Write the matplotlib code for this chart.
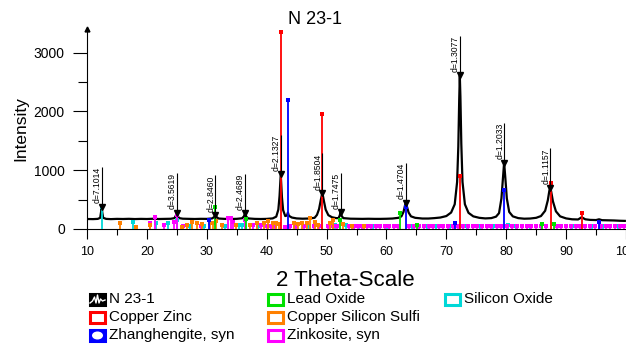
import matplotlib.pyplot as plt
from matplotlib import font_manager
from matplotlib.patches import Rectangle, Ellipse
from matplotlib.lines import Line2D
from matplotlib.transforms import Affine2D, offset_copy

plt.rcParams['font.family'] = ['Liberation Sans', 'DejaVu Sans']

scan_tt = [10.0, 11.0, 11.8, 12.2, 12.35, 12.45, 12.55, 12.7, 13.2, 14, 15, 16, 17, 18, 19, 20,
           21, 22, 23, 24, 24.6, 24.85, 24.98, 25.1, 25.4, 26, 27, 28, 29, 30, 30.9, 31.25,
           31.45, 31.65, 32.0, 33, 34, 35, 35.9, 36.2, 36.4, 36.6, 36.9, 38, 39, 40, 41, 41.6,
           41.95, 42.15, 42.35, 42.55, 42.75, 43.1, 43.4, 43.55, 43.7, 44.2, 45, 46, 47, 48,
           48.4, 48.75, 49.05, 49.3, 49.55, 49.85, 50.3, 50.9, 51.6, 52.0, 52.2, 52.35, 52.5,
           52.8, 54, 55, 56, 57, 58, 59, 60, 61, 62, 62.5, 62.85, 63.1, 63.25, 63.4, 63.7, 64.1,
           64.8, 66, 67, 68, 69, 70, 70.8, 71.4, 71.8, 72.0, 72.15, 72.25, 72.35, 72.5, 72.7,
           73.1, 73.7, 74.5, 75.5, 76.5, 77.5, 78.3, 78.8, 79.2, 79.45, 79.65, 79.85, 80.1,
           80.5, 81.1, 82, 83, 84, 85, 85.8, 86.5, 86.95, 87.2, 87.35, 87.5, 87.8, 88.3, 89, 90,
           91, 92, 92.6, 93.2, 94, 95, 95.5, 96, 97, 98, 99, 99.8]
scan_counts = [170, 168, 172, 190, 290, 380, 280, 190, 172, 168, 172, 170, 173, 169, 172, 170,
               174, 170, 172, 174, 185, 230, 280, 225, 185, 175, 172, 170, 173, 172, 180, 205,
               240, 200, 178, 172, 170, 173, 182, 215, 270, 210, 180, 172, 170, 172, 180, 210,
               330, 560, 930, 540, 320, 220, 230, 280, 225, 195, 180, 175, 178, 190,
               240, 340, 500, 615, 480, 330, 235, 200, 185, 185, 230, 290, 225,
               185, 175, 173, 172, 174, 172, 172, 174, 178, 190, 215, 290, 400, 450, 390, 280, 215,
               190, 178, 178, 185, 195, 220, 280, 420, 800, 1400, 2200, 2610, 2250, 1450, 800,
               420, 275, 215, 190, 180, 185, 210, 270, 520, 850, 1130, 870, 520,
               290, 215, 185, 175, 178, 190, 220, 310, 490, 650, 700, 640, 470, 300, 215, 180,
               165, 162, 200, 165, 155, 152, 165, 150, 148, 145, 140, 138]

# labelled peaks
peak_tt = [12.45, 24.98, 31.45, 36.4, 42.35, 49.3, 52.35, 63.25, 72.25, 79.65, 87.35]
peak_counts = [380, 280, 240, 270, 930, 615, 290, 450, 2610, 1130, 700]
peak_d = ['d=7.1014', 'd=3.5619', 'd=2.8460', 'd=2.4689', 'd=2.1327', 'd=1.8504',
          'd=1.7475', 'd=1.4704', 'd=1.3077', 'd=1.2033', 'd=1.1157']

# reference patterns: stick positions and heights
cuzn_tt = [42.35, 49.3, 72.35, 87.55, 92.6]
cuzn_h = [3350, 1950, 900, 790, 280]
zhang_tt = [30.3, 43.5, 63.25, 71.5, 79.7, 95.45]
zhang_h = [150, 2200, 380, 95, 660, 125]
lead_tt = [31.45, 36.6, 52.3, 62.3, 65.1, 86.0, 87.9]
lead_h = [375, 170, 150, 277, 70, 80, 80]
sio2_tt = [12.45, 17.75, 21.6, 23.5, 25.1, 27.2, 29.6, 33.0, 35.3, 35.9, 38.6, 40.9, 44.8,
           47.0, 51.4, 53.2, 55.5, 57.8, 60.1, 64.2, 66.8, 68.3, 70.6, 73.4, 75.7, 77.8,
           80.3, 81.6, 83.9, 90.9, 94.3, 96.2, 98.7]
sio2_h = [380, 112, 100, 110, 160, 45, 50, 55, 70, 70, 50, 45, 50, 45, 70, 70, 45, 50, 45,
          50, 45, 55, 50, 45, 55, 50, 60, 45, 50, 45, 50, 55, 45]
cusis_tt = [15.5, 18.2, 20.5, 25.8, 26.7, 27.5, 28.3, 29.2, 30.6, 31.1, 31.6, 32.5, 34.8,
            37.15, 38.4, 39.5, 40.3, 41.1, 41.6, 42.0, 44.5, 45.2, 45.9, 46.7, 47.3, 48.1,
            48.5, 50.6, 51.1, 52.7, 54.2, 56.3]
cusis_h = [97, 40, 68, 40, 68, 124, 97, 80, 97, 100, 130, 70, 60, 70, 100, 95, 130, 100,
           95, 80, 100, 80, 100, 95, 180, 124, 70, 100, 150, 80, 50, 45]
zinc_tt = [20.5, 21.3, 22.8, 24.55, 25.05, 26.1, 29.0, 33.6, 34.0, 34.35, 36.45, 37.8, 39.0,
           40.0, 40.7, 41.4, 43.0, 43.9, 44.9, 46.2, 47.9, 48.8, 50.2, 51.0, 51.8, 53.8,
           54.5, 55.2, 56.0, 56.8, 57.5, 58.3, 59.0, 59.7, 60.5, 61.3, 62.0, 63.8, 64.6,
           65.5, 66.3, 67.1, 67.8, 68.7, 69.5, 70.3, 71.1, 71.9, 72.8, 73.6, 74.4, 75.2,
           76.0, 76.8, 77.5, 78.4, 79.2, 80.2, 81.0, 81.8, 82.6, 83.4, 84.2, 85.0, 85.8,
           86.6, 88.4, 89.2, 90.0, 90.8, 91.6, 92.4, 93.2, 94.0, 94.8, 95.8, 96.6, 97.4,
           98.2, 99.0, 99.7]
zinc_h = [100, 205, 68, 125, 238, 50, 55, 180, 180, 125, 153, 70, 70,
          55, 45, 50, 40, 55, 45, 50, 45, 55, 50, 45, 55, 50,
          45, 55, 50, 45, 55, 50, 45, 50, 55, 45, 50, 55, 45,
          50, 55, 45, 50, 55, 50, 45, 55, 50, 45, 55, 50, 45,
          55, 50, 45, 55, 50, 45, 55, 50, 45, 50, 55, 45, 50,
          55, 50, 45, 55, 50, 45, 55, 50, 45, 55, 50, 45, 55,
          50, 45, 50]

phases = [
    ('Copper Zinc', '#ff0000', cuzn_tt, cuzn_h),
    ('Zhanghengite, syn', '#0000ff', zhang_tt, zhang_h),
    ('Lead Oxide', '#00e000', lead_tt, lead_h),
    ('Copper Silicon Sulfi', '#ff8000', cusis_tt, cusis_h),
    ('Zinkosite, syn', '#ff00ff', zinc_tt, zinc_h),
    ('Silicon Oxide', '#00d8d8', sio2_tt, sio2_h),
]

W, H = 626, 345
fig = plt.figure(figsize=(W / 100, H / 100), dpi=100)
ax = fig.add_axes([87 / W, 1 - 229 / H, (W - 87) / W, 200 / H])

ax.plot(scan_tt, scan_counts, color='black', lw=1.6, zorder=2)

# sticks of the reference patterns
for name, col, tt, h in phases[::-1]:
    ax.vlines(tt, 0, h, color=col, lw=1.3, zorder=3)
    ax.plot(tt, h, 's', color=col, ms=2.6, mew=0, zorder=3, clip_on=False)

# d-spacing labels
names = {f.name for f in font_manager.fontManager.ttflist}
if 'Liberation Sans Narrow' in names:
    dfam, dsize = 'Liberation Sans Narrow', 7
else:
    dfam, dsize = 'Liberation Sans', 6.2
lab_len = 670
tops = [c + lab_len for c in peak_counts]
ax.vlines(peak_tt, peak_counts, tops, color='black', lw=0.8, zorder=4)
ax.plot(peak_tt, peak_counts, 'v', color='black', ms=4, zorder=5)
toff = offset_copy(ax.transData, fig=fig, x=-2, y=0, units='dots')
for x, t, s in zip(peak_tt, tops, peak_d):
    ax.text(x, t, s, rotation=90, rotation_mode='anchor', ha='right', va='baseline',
            fontsize=dsize, family=dfam, transform=toff, zorder=5)

ax.set_xlim(10, 100)
ax.set_ylim(0, 3400)
ax.spines['top'].set_visible(False)
ax.spines['right'].set_visible(False)
ax.set_xticks(range(10, 101, 10))
ax.set_xticks(range(15, 100, 10), minor=True)
ax.set_yticks([0, 1000, 2000, 3000])
ax.set_yticks([500, 1500, 2500], minor=True)
ax.tick_params(axis='x', which='major', length=7.5, width=0.8, pad=5, labelsize=9)
ax.tick_params(axis='x', which='minor', length=4.5, width=0.8)
ax.tick_params(axis='y', which='major', length=10, width=0.8, pad=6, labelsize=10)
ax.tick_params(axis='y', which='minor', length=6.5, width=0.8)
for sp in ax.spines.values():
    sp.set_linewidth(0.8)
ax.plot(0, 1, '^', color='black', ms=3.5, transform=ax.transAxes, clip_on=False)

ax.set_ylabel('Intensity', fontsize=12.5)
ax.yaxis.set_label_coords(-0.122, 0.5)
ax.yaxis.label.set_va('center')
ax.set_xlabel('2 Theta-Scale', fontsize=16)
ax.xaxis.set_label_coords(0.479, -0.26)
ax.xaxis.label.set_va('center')
fig.text(315 / W, 1 - 19 / H, 'N 23-1', fontsize=13, ha='center', va='center')

# legend drawn in pixel coordinates (y downwards)
px = Affine2D().scale(1 / W, -1 / H).translate(0, 1) + fig.transFigure
col_x = [88.5, 266.5, 443.5]
row_y = [299, 317.5, 335.5]
entries = [('N 23-1', 'black', 'scan', 0, 0)]
slots = [(0, 1), (0, 2), (1, 0), (1, 1), (1, 2), (2, 0)]
for (name, col, tt, h), (c, r) in zip(phases, slots):
    entries.append((name, col, 'box', c, r))
for name, col, kind, c, r in entries:
    x0, y0 = col_x[c], row_y[r] - 7
    filled = kind == 'scan' or name.startswith('Zhang')
    fig.add_artist(Rectangle((x0 + 1.5, y0 + 1.5), 15, 11, transform=px, lw=2.2,
                             edgecolor=col, facecolor=col if filled else 'white'))
    if kind == 'scan':
        zx = [1.5, 4, 6, 7.5, 9, 10.5, 12, 14, 16.5]
        zy = [11, 9, 5, 11, 3, 11, 7, 9, 8]
        fig.add_artist(Line2D([x0 + v for v in zx], [y0 + v for v in zy], color='white',
                              lw=1, transform=px))
    elif filled:
        fig.add_artist(Ellipse((x0 + 9, y0 + 7), 11, 8, transform=px, facecolor='white',
                               edgecolor='none'))
    fig.text(x0 + 20.5, row_y[r], name, transform=px, fontsize=11, va='center', ha='left')

fig.savefig('out.png', dpi=100)
